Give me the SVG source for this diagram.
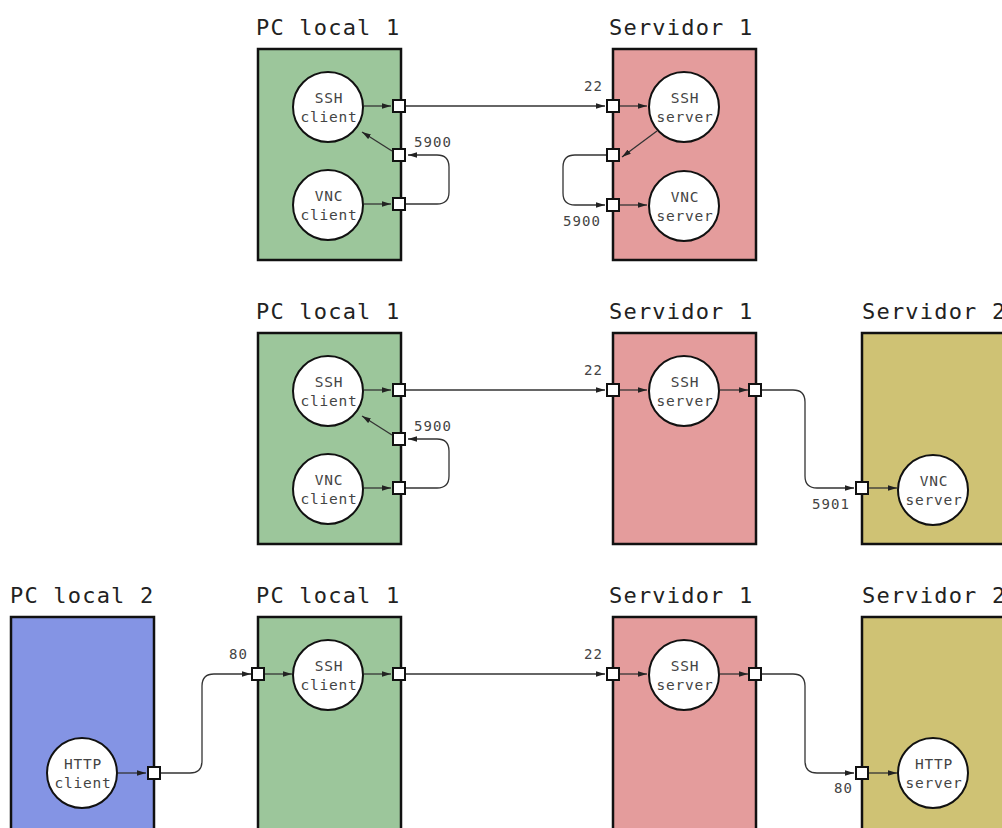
<svg xmlns="http://www.w3.org/2000/svg" width="1002" height="828" viewBox="0 0 1002 828">
<defs>
<marker id="ah" viewBox="0 0 10 6" refX="10" refY="3" markerWidth="9" markerHeight="5.4" orient="auto" markerUnits="userSpaceOnUse"><path d="M0,0 L10,3 L0,6 z" fill="#222"/></marker>
<style>
.box{stroke:#111;stroke-width:2.5}
.green{fill:#9cc69b}
.pink{fill:#e49c9c}
.olive{fill:#cfc274}
.blue{fill:#8494e4}
.title{font-family:"DejaVu Sans Mono","Liberation Mono",monospace;font-size:22px;letter-spacing:1.2px;fill:#222}
.svc{fill:#fff;stroke:#111;stroke-width:2}
.st{font-family:"DejaVu Sans Mono","Liberation Mono",monospace;font-size:14.5px;letter-spacing:0.8px;fill:#444;text-anchor:middle}
.lbl{font-family:"DejaVu Sans Mono","Liberation Mono",monospace;font-size:14px;letter-spacing:1.1px;fill:#444}
.port{fill:#fff;stroke:#111;stroke-width:2}
.c{fill:none;stroke:#333;stroke-width:1.3;marker-end:url(#ah)}
</style>
</defs>
<rect width="1002" height="828" fill="#fff"/>

<!-- Row 1 -->
<g id="r1-pclocal1">
<text class="title" x="256" y="35">PC local 1</text>
<rect class="box green" x="258" y="49" width="143" height="211"/>
<g id="r1-ssh-client"><circle class="svc" cx="328" cy="107" r="35"/><text class="st" x="329" y="103">SSH</text><text class="st" x="329" y="122">client</text></g>
<g id="r1-vnc-client"><circle class="svc" cx="328" cy="205" r="35"/><text class="st" x="329" y="201">VNC</text><text class="st" x="329" y="220">client</text></g>
<rect class="port" x="393" y="100" width="12" height="12"/>
<rect class="port" x="393" y="149" width="12" height="12"/>
<rect class="port" x="393" y="198" width="12" height="12"/>
<text class="lbl" x="414" y="147">5900</text>
</g>
<g id="r1-servidor1">
<text class="title" x="609" y="35">Servidor 1</text>
<rect class="box pink" x="613" y="49" width="143" height="211"/>
<g id="r1-ssh-server"><circle class="svc" cx="684" cy="107" r="35"/><text class="st" x="685" y="103">SSH</text><text class="st" x="685" y="122">server</text></g>
<g id="r1-vnc-server"><circle class="svc" cx="684" cy="206" r="35"/><text class="st" x="685" y="202">VNC</text><text class="st" x="685" y="221">server</text></g>
<rect class="port" x="607" y="100" width="12" height="12"/>
<rect class="port" x="607" y="149" width="12" height="12"/>
<rect class="port" x="607" y="199" width="12" height="12"/>
<text class="lbl" x="584" y="91">22</text>
<text class="lbl" x="563" y="226">5900</text>
</g>

<!-- Row 2 -->
<g id="r2-pclocal1">
<text class="title" x="256" y="319">PC local 1</text>
<rect class="box green" x="258" y="333" width="143" height="211"/>
<g id="r2-ssh-client"><circle class="svc" cx="328" cy="391" r="35"/><text class="st" x="329" y="387">SSH</text><text class="st" x="329" y="406">client</text></g>
<g id="r2-vnc-client"><circle class="svc" cx="328" cy="489" r="35"/><text class="st" x="329" y="485">VNC</text><text class="st" x="329" y="504">client</text></g>
<rect class="port" x="393" y="384" width="12" height="12"/>
<rect class="port" x="393" y="433" width="12" height="12"/>
<rect class="port" x="393" y="482" width="12" height="12"/>
<text class="lbl" x="414" y="431">5900</text>
</g>
<g id="r2-servidor1">
<text class="title" x="609" y="319">Servidor 1</text>
<rect class="box pink" x="613" y="333" width="143" height="211"/>
<g id="r2-ssh-server"><circle class="svc" cx="684" cy="391" r="35"/><text class="st" x="685" y="387">SSH</text><text class="st" x="685" y="406">server</text></g>
<rect class="port" x="607" y="384" width="12" height="12"/>
<rect class="port" x="749" y="384" width="12" height="12"/>
<text class="lbl" x="584" y="375">22</text>
</g>
<g id="r2-servidor2">
<text class="title" x="862" y="319">Servidor 2</text>
<rect class="box olive" x="862" y="333" width="150" height="211"/>
<g id="r2-vnc-server"><circle class="svc" cx="933" cy="490" r="35"/><text class="st" x="934" y="486">VNC</text><text class="st" x="934" y="505">server</text></g>
<rect class="port" x="856" y="482" width="12" height="12"/>
<text class="lbl" x="812" y="509">5901</text>
</g>

<!-- Row 3 -->
<g id="r3-pclocal2">
<text class="title" x="10" y="603">PC local 2</text>
<rect class="box blue" x="11" y="617" width="143" height="215"/>
<g id="r3-http-client"><circle class="svc" cx="82" cy="773" r="35"/><text class="st" x="83" y="769">HTTP</text><text class="st" x="83" y="788">client</text></g>
<rect class="port" x="148" y="767" width="12" height="12"/>
</g>
<g id="r3-pclocal1">
<text class="title" x="256" y="603">PC local 1</text>
<rect class="box green" x="258" y="617" width="143" height="215"/>
<g id="r3-ssh-client"><circle class="svc" cx="328" cy="675" r="35"/><text class="st" x="329" y="671">SSH</text><text class="st" x="329" y="690">client</text></g>
<rect class="port" x="252" y="668" width="12" height="12"/>
<rect class="port" x="393" y="668" width="12" height="12"/>
<text class="lbl" x="229" y="659">80</text>
</g>
<g id="r3-servidor1">
<text class="title" x="609" y="603">Servidor 1</text>
<rect class="box pink" x="613" y="617" width="143" height="215"/>
<g id="r3-ssh-server"><circle class="svc" cx="684" cy="675" r="35"/><text class="st" x="685" y="671">SSH</text><text class="st" x="685" y="690">server</text></g>
<rect class="port" x="607" y="668" width="12" height="12"/>
<rect class="port" x="749" y="668" width="12" height="12"/>
<text class="lbl" x="584" y="659">22</text>
</g>
<g id="r3-servidor2">
<text class="title" x="862" y="603">Servidor 2</text>
<rect class="box olive" x="862" y="617" width="150" height="215"/>
<g id="r3-http-server"><circle class="svc" cx="933" cy="773" r="35"/><text class="st" x="934" y="769">HTTP</text><text class="st" x="934" y="788">server</text></g>
<rect class="port" x="856" y="767" width="12" height="12"/>
<text class="lbl" x="834" y="793">80</text>
</g>

<g id="connectors">
<!-- row 1 -->
<path class="c" d="M364,106 H391"/>
<path class="c" d="M364,204 H391"/>
<path class="c" d="M392,151 L362,132"/>
<path class="c" d="M406,204 H437 Q449,204 449,192 V167 Q449,155 437,155 H408"/>
<path class="c" d="M406,106 H605"/>
<path class="c" d="M620,106 H647"/>
<path class="c" d="M657,131 L622,157"/>
<path class="c" d="M606,155 H575 Q563,155 563,167 V193 Q563,205 575,205 H605"/>
<path class="c" d="M620,205 H647"/>
<!-- row 2 -->
<path class="c" d="M364,390 H391"/>
<path class="c" d="M364,488 H391"/>
<path class="c" d="M392,435 L362,416"/>
<path class="c" d="M406,488 H437 Q449,488 449,476 V451 Q449,439 437,439 H408"/>
<path class="c" d="M406,390 H605"/>
<path class="c" d="M620,390 H647"/>
<path class="c" d="M720,390 H748"/>
<path class="c" d="M762,390 H793 Q805,390 805,402 V476 Q805,488 817,488 H854"/>
<path class="c" d="M869,488 H897"/>
<!-- row 3 -->
<path class="c" d="M118,773 H146"/>
<path class="c" d="M161,773 H190 Q202,773 202,761 V686 Q202,674 214,674 H251"/>
<path class="c" d="M265,674 H292"/>
<path class="c" d="M364,674 H391"/>
<path class="c" d="M406,674 H605"/>
<path class="c" d="M620,674 H647"/>
<path class="c" d="M720,674 H748"/>
<path class="c" d="M762,674 H793 Q805,674 805,686 V761 Q805,773 817,773 H854"/>
<path class="c" d="M869,773 H897"/>
</g>
</svg>
